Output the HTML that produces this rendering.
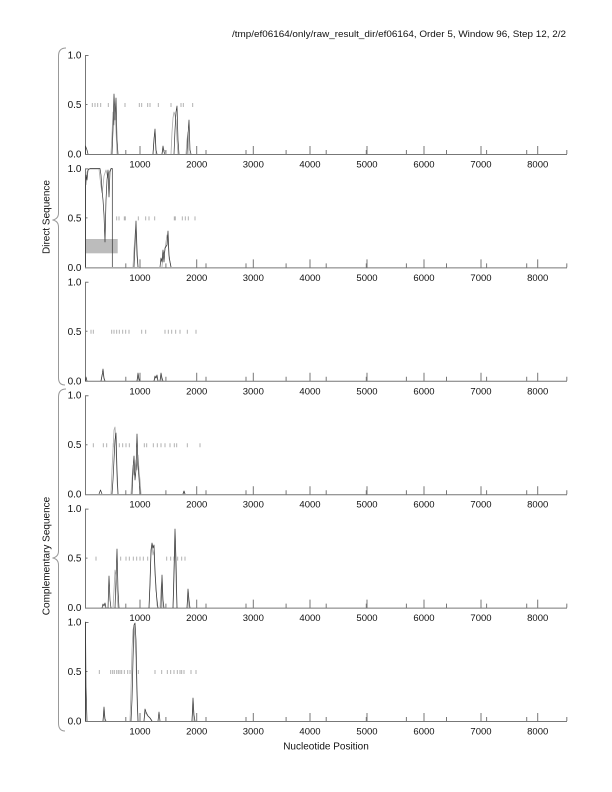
<!DOCTYPE html>
<html><head><meta charset="utf-8"><style>
html,body{margin:0;padding:0;background:#fff;}
svg{display:block;}
text{font-family:"Liberation Sans",Arial,sans-serif;fill:#111;}
.yl{font-size:10px;text-anchor:end;}
.xl{font-size:9.5px;text-anchor:middle;}
.ax{fill:none;stroke:#777;stroke-width:1;}
.ds{fill:none;stroke:#aaa;stroke-width:0.9;}
.lt{fill:none;stroke:#aaa;stroke-width:0.8;stroke-linejoin:round;}
.dk{fill:none;stroke:#333;stroke-width:0.7;stroke-linejoin:round;}
</style></head><body>
<svg width="612" height="792" viewBox="0 0 612 792" xmlns="http://www.w3.org/2000/svg">
<rect width="612" height="792" fill="#fff"/>
<text x="566" y="37" font-size="9.5" text-anchor="end" textLength="334" lengthAdjust="spacingAndGlyphs">/tmp/ef06164/only/raw_result_dir/ef06164, Order 5, Window 96, Step 12, 2/2</text>

<!-- braces -->
<path d="M66,48 Q58.5,48 58.5,56 V213 Q58.5,219 52.5,220 Q58.5,221 58.5,227 V378 Q58.5,385 65,385" fill="none" stroke="#999" stroke-width="1"/>
<path d="M66,389 Q58.5,389 58.5,397 V551 Q58.5,557 52.5,558 Q58.5,559 58.5,565 V723 Q58.5,731 65,731" fill="none" stroke="#999" stroke-width="1"/>
<text x="0" y="0" font-size="10" text-anchor="middle" transform="translate(49.5,217) rotate(-90)">Direct Sequence</text>
<text x="0" y="0" font-size="10" text-anchor="middle" transform="translate(49.5,556) rotate(-90)">Complementary Sequence</text>
<text x="326" y="749.5" font-size="10" text-anchor="middle">Nucleotide Position</text>

<!-- panel 2 gray rectangle -->
<rect x="85.5" y="239" width="32.2" height="14.3" fill="#bcbcbc"/>

<!-- Panel 1 -->
<g>
<path class="ax" d="M85.5,55 V154.5 M85.5,55.5 H88.5 M85.5,104.5 H87.5 M85,154.5 H567 M140,146 V154 M196.7,146 V154 M253.3,146 V154 M310,146 V154 M367,146 V154 M424,146 V154 M481,146 V154 M537.7,146 V154 M125.8,150 V154 M165.9,150 V154 M206,150 V154 M246,150 V154 M286.1,150 V154 M326.2,150 V154 M366.3,150 V154 M406.4,150 V154 M446.5,150 V154 M486.6,150 V154 M526.7,150 V154 M566.8,150 V154"/>
<text class="yl" x="81.5" y="58.5">1.0</text><text class="yl" x="81.5" y="108">0.5</text><text class="yl" x="81.5" y="157.5">0.0</text>
<text class="xl" x="140" y="167.5">1000</text><text class="xl" x="196.7" y="167.5">2000</text><text class="xl" x="253.3" y="167.5">3000</text><text class="xl" x="310" y="167.5">4000</text><text class="xl" x="367" y="167.5">5000</text><text class="xl" x="424" y="167.5">6000</text><text class="xl" x="481" y="167.5">7000</text><text class="xl" x="537.7" y="167.5">8000</text>
<path class="ds" d="M92.3,103v4M95,103v4M97.7,103v4M100.7,103v4M108.3,103v4M116,103v4M125,103v4M139.3,103v4M141.7,103v4M147.7,103v4M150,103v4M158.3,103v4M171,103v4M181,103v4M183.3,103v4M192.7,103v4"/>
</g>
<g transform="translate(0,113.4)">
<path class="ax" d="M85.5,55 V154.5 M85.5,55.5 H88.5 M85.5,104.5 H87.5 M85,154.5 H567 M140,146 V154 M196.7,146 V154 M253.3,146 V154 M310,146 V154 M367,146 V154 M424,146 V154 M481,146 V154 M537.7,146 V154 M125.8,150 V154 M165.9,150 V154 M206,150 V154 M246,150 V154 M286.1,150 V154 M326.2,150 V154 M366.3,150 V154 M406.4,150 V154 M446.5,150 V154 M486.6,150 V154 M526.7,150 V154 M566.8,150 V154"/>
<text class="yl" x="81.5" y="58.5">1.0</text><text class="yl" x="81.5" y="108">0.5</text><text class="yl" x="81.5" y="157.5">0.0</text>
<text class="xl" x="140" y="167.5">1000</text><text class="xl" x="196.7" y="167.5">2000</text><text class="xl" x="253.3" y="167.5">3000</text><text class="xl" x="310" y="167.5">4000</text><text class="xl" x="367" y="167.5">5000</text><text class="xl" x="424" y="167.5">6000</text><text class="xl" x="481" y="167.5">7000</text><text class="xl" x="537.7" y="167.5">8000</text>
<path class="ds" d="M116.7,103v4M119,103v4M124.3,103v4M125.3,103v4M138.3,103v4M145.7,103v4M149,103v4M154.7,103v4M174.3,103v4M175.3,103v4M182.3,103v4M185.3,103v4M188.3,103v4M195,103v4"/>
</g>
<g transform="translate(0,226.8)">
<path class="ax" d="M85.5,55 V154.5 M85.5,55.5 H88.5 M85.5,104.5 H87.5 M85,154.5 H567 M140,146 V154 M196.7,146 V154 M253.3,146 V154 M310,146 V154 M367,146 V154 M424,146 V154 M481,146 V154 M537.7,146 V154 M125.8,150 V154 M165.9,150 V154 M206,150 V154 M246,150 V154 M286.1,150 V154 M326.2,150 V154 M366.3,150 V154 M406.4,150 V154 M446.5,150 V154 M486.6,150 V154 M526.7,150 V154 M566.8,150 V154"/>
<text class="yl" x="81.5" y="58.5">1.0</text><text class="yl" x="81.5" y="108">0.5</text><text class="yl" x="81.5" y="157.5">0.0</text>
<text class="xl" x="140" y="167.5">1000</text><text class="xl" x="196.7" y="167.5">2000</text><text class="xl" x="253.3" y="167.5">3000</text><text class="xl" x="310" y="167.5">4000</text><text class="xl" x="367" y="167.5">5000</text><text class="xl" x="424" y="167.5">6000</text><text class="xl" x="481" y="167.5">7000</text><text class="xl" x="537.7" y="167.5">8000</text>
<path class="ds" d="M91,103v4M93.3,103v4M111.7,103v4M114,103v4M116.7,103v4M119.3,103v4M122.7,103v4M125.7,103v4M129,103v4M141.7,103v4M145.7,103v4M165,103v4M168.3,103v4M171.7,103v4M175.7,103v4M180,103v4M187.3,103v4M196,103v4"/>
</g>
<g transform="translate(0,340.2)">
<path class="ax" d="M85.5,55 V154.5 M85.5,55.5 H88.5 M85.5,104.5 H87.5 M85,154.5 H567 M140,146 V154 M196.7,146 V154 M253.3,146 V154 M310,146 V154 M367,146 V154 M424,146 V154 M481,146 V154 M537.7,146 V154 M125.8,150 V154 M165.9,150 V154 M206,150 V154 M246,150 V154 M286.1,150 V154 M326.2,150 V154 M366.3,150 V154 M406.4,150 V154 M446.5,150 V154 M486.6,150 V154 M526.7,150 V154 M566.8,150 V154"/>
<text class="yl" x="81.5" y="58.5">1.0</text><text class="yl" x="81.5" y="108">0.5</text><text class="yl" x="81.5" y="157.5">0.0</text>
<text class="xl" x="140" y="167.5">1000</text><text class="xl" x="196.7" y="167.5">2000</text><text class="xl" x="253.3" y="167.5">3000</text><text class="xl" x="310" y="167.5">4000</text><text class="xl" x="367" y="167.5">5000</text><text class="xl" x="424" y="167.5">6000</text><text class="xl" x="481" y="167.5">7000</text><text class="xl" x="537.7" y="167.5">8000</text>
<path class="ds" d="M93.3,103v4M103.3,103v4M106.7,103v4M113.3,103v4M119.3,103v4M122.7,103v4M126,103v4M129.3,103v4M136.7,103v4M144.3,103v4M146.7,103v4M153.3,103v4M157.3,103v4M161,103v4M165,103v4M170,103v4M174.3,103v4M176.7,103v4M187.3,103v4M200,103v4"/>
</g>
<g transform="translate(0,453.6)">
<path class="ax" d="M85.5,55 V154.5 M85.5,55.5 H88.5 M85.5,104.5 H87.5 M85,154.5 H567 M140,146 V154 M196.7,146 V154 M253.3,146 V154 M310,146 V154 M367,146 V154 M424,146 V154 M481,146 V154 M537.7,146 V154 M125.8,150 V154 M165.9,150 V154 M206,150 V154 M246,150 V154 M286.1,150 V154 M326.2,150 V154 M366.3,150 V154 M406.4,150 V154 M446.5,150 V154 M486.6,150 V154 M526.7,150 V154 M566.8,150 V154"/>
<text class="yl" x="81.5" y="58.5">1.0</text><text class="yl" x="81.5" y="108">0.5</text><text class="yl" x="81.5" y="157.5">0.0</text>
<text class="xl" x="140" y="167.5">1000</text><text class="xl" x="196.7" y="167.5">2000</text><text class="xl" x="253.3" y="167.5">3000</text><text class="xl" x="310" y="167.5">4000</text><text class="xl" x="367" y="167.5">5000</text><text class="xl" x="424" y="167.5">6000</text><text class="xl" x="481" y="167.5">7000</text><text class="xl" x="537.7" y="167.5">8000</text>
<path class="ds" d="M96,103v4M120.7,103v4M126,103v4M129.3,103v4M133.3,103v4M136.7,103v4M140,103v4M143.3,103v4M147.7,103v4M166.7,103v4M170.7,103v4M174,103v4M177.7,103v4M181.7,103v4M185,103v4"/>
</g>
<g transform="translate(0,567)">
<path class="ax" d="M85.5,55 V154.5 M85.5,55.5 H88.5 M85.5,104.5 H87.5 M85,154.5 H567 M140,146 V154 M196.7,146 V154 M253.3,146 V154 M310,146 V154 M367,146 V154 M424,146 V154 M481,146 V154 M537.7,146 V154 M125.8,150 V154 M165.9,150 V154 M206,150 V154 M246,150 V154 M286.1,150 V154 M326.2,150 V154 M366.3,150 V154 M406.4,150 V154 M446.5,150 V154 M486.6,150 V154 M526.7,150 V154 M566.8,150 V154"/>
<text class="yl" x="81.5" y="58.5">1.0</text><text class="yl" x="81.5" y="108">0.5</text><text class="yl" x="81.5" y="157.5">0.0</text>
<text class="xl" x="140" y="167.5">1000</text><text class="xl" x="196.7" y="167.5">2000</text><text class="xl" x="253.3" y="167.5">3000</text><text class="xl" x="310" y="167.5">4000</text><text class="xl" x="367" y="167.5">5000</text><text class="xl" x="424" y="167.5">6000</text><text class="xl" x="481" y="167.5">7000</text><text class="xl" x="537.7" y="167.5">8000</text>
<path class="ds" d="M99.3,103v4M110.7,103v4M112.7,103v4M114.3,103v4M116.7,103v4M118.3,103v4M120,103v4M121.7,103v4M124.3,103v4M127.7,103v4M130,103v4M138.3,103v4M155,103v4M161.7,103v4M167.3,103v4M170.7,103v4M174,103v4M177.3,103v4M180,103v4M181.7,103v4M184,103v4M191,103v4M196,103v4"/>
</g>

<!-- Panel 1 curves (zero 154) -->
<path class="lt" d="M111,154 L112,135 L113,112 L114,125 L115,110 L116,130 L117,154 M153,154 L154,138 L155,132 L156,154 M171,154 L172,132 L173,118 L174,112 L175,115 L176,120 L177,140 L178,154 M186,154 L187,140 L188,132 L189,154 M162,154 L163,149 L165,151 L166,154"/>
<path class="dk" d="M85.5,154 L85.5,146 L87,150 L88,154 M112,154 L113,130 L114,94 L115,120 L116,98 L117,140 L118,154 M153,154 L154,140 L155,129 L156,150 L157,154 M162,154 L163,146 L164,152 L165,154 M174,154 L175,130 L176,112 L177,106 L178,140 L179,154 M187,154 L188,135 L189,120 L190,150 L191,154"/>

<!-- Panel 2 curves -->
<path class="lt" d="M86,185 L87,172 L89,169 L99,169 L100,178 L101,186 L102,193 L103,186 L104,176 L106,170 L108,178 L109,172 L111,169 L112,169 M133,267 L134,250 L135,235 L136,228 L137,245 L138,267 M162,267 L163,255 L165,250 L166,242 L167,235 L168,240 L169,258 L170,262 L171,267"/>
<path class="dk" d="M85.5,267 L85.5,190 L86,175 L87,180 L88,170 L90,168.5 L100,168.5 L101,175 L102,190 L103,200 L104,215 L105,242 L106,200 L107,180 L108,170 L109,197 L110,172 L111,168.5 L112.3,168.5 L112.3,267 M134,267 L135,245 L136,221 L137,255 L138,267 M160,267 L161,258 L162,262 L163,250 L164,262 L165,248 L167,245 L168,231 L169,255 L170,262 L171,267"/>

<!-- Panel 3 curves -->
<path class="lt" d="M101,381 L102,375 L103,373 L104,379 L105,381 M137,381 L138,376 L139,381 M154,381 L155,378 L157,377 L158,381 M160,381 L161,376 L162,381"/>
<path class="dk" d="M85.5,381 L86,377 L87,381 M101,381 L102,376 L103,369 L104,378 L105,381 M137,381 L138,373 L139,379 L140,381 M154,381 L155,376 L156,378 L157,375 L158,381 M160,381 L161,373 L162,378 L163,381"/>

<!-- Panel 4 curves -->
<path class="lt" d="M111,494 L112,470 L113,450 L114,430 L115,427 L116,445 L117,480 L118,494 M131,494 L132,480 L133,465 L134,475 L135,470 L136,460 L137,470 L138,455 L139,470 L140,480 L141,494 M183,494 L184,491 L185,494"/>
<path class="dk" d="M99,494 L100.5,490 L102,494 M112,494 L113,480 L114,460 L115,440 L116,433 L117,470 L118,494 M132,494 L133,470 L134,456 L135,480 L136,470 L137,434 L138,465 L139,478 L140,494 M183,494 L184,491 L185,494"/>

<!-- Panel 5 curves -->
<path class="lt" d="M113,608 L114,590 L115,570 L116,575 L117,590 L118,608 M149,608 L150,580 L151,555 L152,545 L153,555 L154,550 L155,575 L156,585 L157,605 L158,608 M160,608 L161,590 L162,580 L163,608 M173,608 L174,580 L175,540 L176,580 L177,608 M187,608 L188,595 L189,608"/>
<path class="dk" d="M102,608 L103,604 L104,606 L105,603 L106,608 M108,608 L109,576 L110,600 L111,608 M115,608 L116,580 L117,549 L118,590 L119,608 M149,608 L150,585 L151,550 L152,543 L153,548 L154,545 L155,570 L156,590 L157,600 L158,608 M161,608 L162,575 L163,600 L164,608 M173,608 L174,570 L175,529 L176,560 L177,608 M187,608 L188,589 L189,600 L190,608"/>

<!-- Panel 6 curves -->
<path class="lt" d="M130,721 L131,690 L132,650 L133,630 L134,626 L135,640 L136,660 L137,700 L138,721 M144,721 L145,712 L147,715 L150,718 L152,721 M103,721 L104,712 L105,721 M192,721 L193,705 L194,721"/>
<path class="dk" d="M85.5,721 L85.5,622 L86,687 L87,721 M103,721 L104,707 L105,719 L106,721 M131,721 L132,700 L133,660 L134,625 L135,623 L136,640 L137,690 L138,721 M144,721 L145,709 L146,712 L147,714 L148,716 L150,718 L152,721 M158,721 L159,712 L160,721 M192,721 L193,698 L194,715 L195,721"/>
</svg>
</body></html>
